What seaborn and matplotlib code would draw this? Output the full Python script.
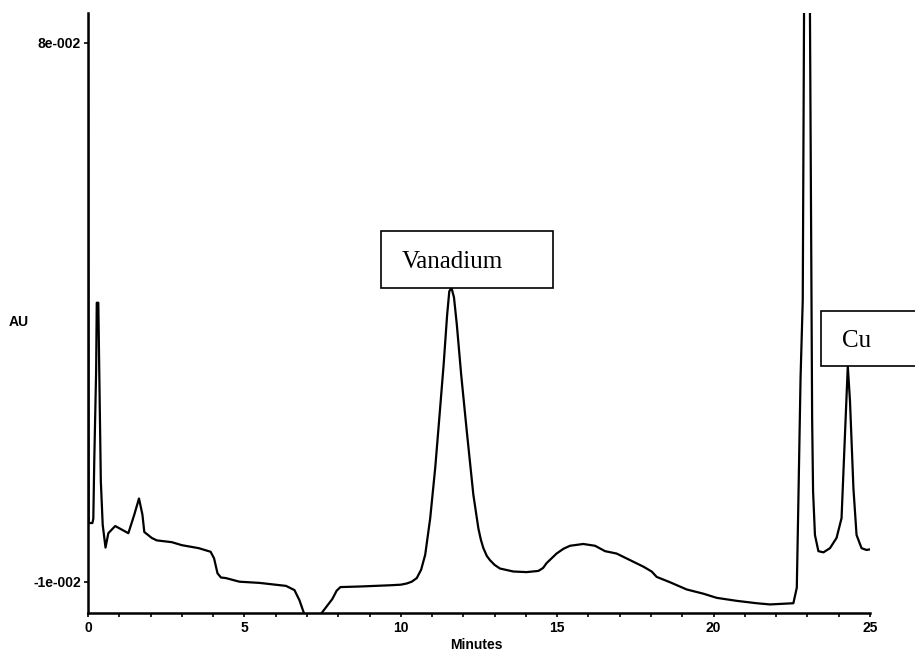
import matplotlib
matplotlib.use("Agg")
import matplotlib.pyplot as plt
from matplotlib.patches import Rectangle
import seaborn as sns
import pandas as pd

# ---- data ----
minutes = [0.0, 0.02, 0.14, 0.17, 0.20, 0.26, 0.28, 0.33, 0.36, 0.41, 0.47, 0.56, 0.65,
           0.87, 1.08, 1.29, 1.48, 1.63, 1.74, 1.80, 2.04, 2.20, 2.68, 3.00, 3.54, 3.92,
           4.03, 4.14, 4.25, 4.41, 4.84, 5.48, 6.33, 6.60, 6.76, 6.92, 7.15, 7.43, 7.81,
           7.95, 8.07, 8.71, 9.65, 10.00, 10.19, 10.35, 10.51, 10.65, 10.78, 10.94, 11.10,
           11.24, 11.37, 11.48, 11.55, 11.62, 11.70, 11.79, 11.93, 12.11, 12.32, 12.48,
           12.56, 12.64, 12.75, 12.85, 13.00, 13.17, 13.60, 14.02, 14.40, 14.55, 14.66,
           14.98, 15.20, 15.41, 15.83, 16.21, 16.53, 16.90, 17.33, 17.76, 18.02, 18.18,
           18.61, 19.14, 19.67, 20.10, 20.74, 21.38, 21.80, 22.55, 22.66, 22.71, 22.78,
           22.85, 22.90, 23.07, 23.13, 23.15, 23.18, 23.24, 23.35, 23.51, 23.72, 23.93,
           24.09, 24.20, 24.29, 24.36, 24.47, 24.57, 24.73, 24.89, 25.00]
au = [0.090, -0.0002, -0.0002, 0.0005, 0.0101, 0.0252, 0.0366, 0.0366, 0.0252, 0.0068,
      -0.0005, -0.0043, -0.0019, -0.0007, -0.0013, -0.0019, 0.0012, 0.0039, 0.0012, -0.0017,
      -0.0027, -0.0031, -0.0034, -0.0039, -0.0044, -0.0050, -0.0061, -0.0086, -0.0093,
      -0.0094, -0.0100, -0.0102, -0.0107, -0.0114, -0.0131, -0.0155, -0.0190, -0.0155,
      -0.0129, -0.0115, -0.0109, -0.0108, -0.0106, -0.0105, -0.0103, -0.0100, -0.0094,
      -0.0080, -0.0055, 0.0006, 0.0090, 0.0179, 0.0263, 0.0345, 0.0385, 0.0391, 0.0375,
      0.0330, 0.0246, 0.0151, 0.0045, -0.0011, -0.0030, -0.0044, -0.0057, -0.0064,
      -0.0072, -0.0078, -0.0083, -0.0084, -0.0082, -0.0077, -0.0069, -0.0053, -0.0045,
      -0.0040, -0.0037, -0.0040, -0.0049, -0.0053, -0.0064, -0.0075, -0.0083, -0.0092,
      -0.0101, -0.0113, -0.0120, -0.0127, -0.0132, -0.0136, -0.0138, -0.0136, -0.0110,
      0.0034, 0.0241, 0.0370, 0.0950, 0.0950, 0.0370, 0.0174, 0.0051, -0.0022, -0.0049,
      -0.0051, -0.0044, -0.0027, 0.0006, 0.0146, 0.0260, 0.0202, 0.0056, -0.0022,
      -0.0044, -0.0047, -0.0046]

x_ticks = [0, 5, 10, 15, 20, 25]
x_tick_labels = ["0", "5", "10", "15", "20", "25"]
y_ticks = [0.08, -0.01]
y_tick_labels = ["8e-002", "-1e-002"]

peak_names = ["Vanadium", "Cu"]
peak_x = [11.62, 24.29]
peak_y = [0.0391, 0.0260]

df = pd.DataFrame({"Minutes": minutes, "AU": au})

sns.set_style("ticks")
plt.rcParams["font.family"] = ["Liberation Sans", "DejaVu Sans"]
plt.rcParams["text.color"] = "black"
plt.rcParams["axes.labelcolor"] = "black"
plt.rcParams["xtick.color"] = "black"
plt.rcParams["ytick.color"] = "black"

fig = plt.figure(figsize=(9.15, 6.55), dpi=100)
ax = fig.add_axes([88 / 915, 1 - 613 / 655, 782 / 915, 600 / 655])

sns.lineplot(data=df, x="Minutes", y="AU", ax=ax, color="black", linewidth=1.6,
             estimator=None, sort=False)

ax.set_xlim(0, 25)
ax.set_ylim(-0.01523, 0.085)

ax.set_xticks(x_ticks)
ax.set_xticklabels(x_tick_labels, fontsize=10, fontweight="bold")
ax.set_xticks(range(0, 26), minor=True)
ax.set_yticks(y_ticks)
ax.set_yticklabels(y_tick_labels, fontsize=10, fontweight="bold")
ax.tick_params(axis="x", which="both", length=3, width=1.2, pad=2.5, direction="out", colors="black")
ax.tick_params(axis="y", which="both", length=3, width=1.2, pad=2, direction="out", colors="black")

sns.despine(ax=ax)
for s in ["left", "bottom"]:
    ax.spines[s].set_linewidth(1.8)
    ax.spines[s].set_color("black")

ax.set_xlabel("Minutes", fontsize=10, fontweight="bold", color="black")
ax.xaxis.set_label_coords(0.497, -0.053)
ax.xaxis.label.set_va("center")
ax.set_ylabel("AU", fontsize=10, fontweight="bold", rotation=0, ha="left", va="center", color="black")
ax.yaxis.set_label_coords(-0.102, 0.485)

# label boxes (box bottom sits on the peak apex)
box_w = [5.52, 3.05]
box_h = [0.0094, 0.0093]
box_left = [9.36, 23.42]
text_dx = [0.68, 0.67]
for name, px, py, w, h, bl, dx in zip(peak_names, peak_x, peak_y, box_w, box_h, box_left, text_dx):
    rect = Rectangle((bl, py), w, h, facecolor="white", edgecolor="black",
                     linewidth=1.2, clip_on=False, zorder=5)
    ax.add_patch(rect)
    ax.text(bl + dx, py + h * 0.35, name, fontsize=18, family=["Liberation Serif", "DejaVu Serif"],
            color="black", ha="left", va="baseline", zorder=6, clip_on=False)

fig.savefig("out.png", dpi=100)
